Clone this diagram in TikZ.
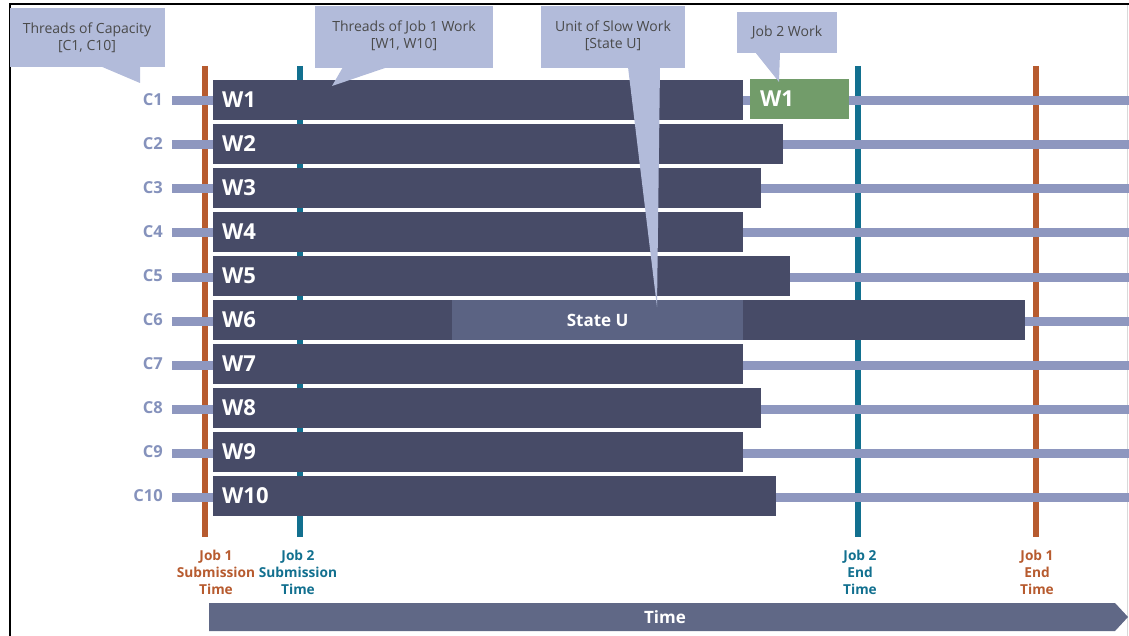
\documentclass[tikz,border=0pt]{standalone}
\usepackage{fontspec}
\setmainfont{Open Sans}
\definecolor{barc}{HTML}{474B67}
\definecolor{slowc}{HTML}{5B6383}
\definecolor{threadc}{HTML}{8E97BF}
\definecolor{calloutc}{HTML}{B2BBDA}
\definecolor{calltext}{HTML}{4A4A4A}
\definecolor{job1c}{HTML}{B75B2F}
\definecolor{job2c}{HTML}{12708F}
\definecolor{greenc}{HTML}{729C6A}
\definecolor{timec}{HTML}{606886}
\definecolor{capc}{HTML}{8592BC}
\tikzset{
  bar/.style={fill=barc, draw=none, anchor=west, minimum height=40pt, inner sep=0pt},
  wlabel/.style={anchor=west, text=white, font=\fontsize{22}{24}\selectfont\bfseries, inner sep=0pt},
  clabel/.style={anchor=east, text=capc, font=\fontsize{16.5}{18}\selectfont\bfseries, inner sep=0pt},
  thread/.style={draw=threadc, line width=9pt},
  jobline/.style={line width=5.5pt},
  callout/.style={fill=calloutc, draw=none},
  calltxt/.style={text=calltext, align=center, font=\fontsize{14}{17}\selectfont, inner sep=0pt},
  marktxt/.style={align=center, font=\fontsize{13.7}{17}\selectfont\bfseries, inner sep=0pt},
}
\begin{document}
\begin{tikzpicture}[x=1pt,y=-1pt]
\useasboundingbox (0,0) rectangle (1129,636);
% frame
\draw[line width=2pt] (10,636) -- (10,4.5) -- (1129,4.5);
\draw[black!15, line width=1pt] (1127.5,5) -- (1127.5,636);

% job time markers
\draw[jobline, job1c] (205,66) -- (205,537);
\draw[jobline, job2c] (300,66) -- (300,537);
\draw[jobline, job2c] (858,66) -- (858,537);
\draw[jobline, job1c] (1036,66) -- (1036,537);

% capacity threads, job 1 work bars
\foreach \i/\e in {1/743, 2/783, 3/761, 4/743, 5/790, 6/1025, 7/743, 8/761, 9/743, 10/776} {
  \pgfmathsetmacro{\yc}{100+44*(\i-1)}
  \node[clabel] (c\i) at (163,\yc) {C\i};
  \draw[thread] (172,\yc+1) -- (1129,\yc+1);
  \pgfmathsetmacro{\barw}{\e-213}
  \node[bar, minimum width=\barw pt] (w\i) at (213,\yc) {};
  \node[wlabel] (wl\i) at (222,\yc) {W\i};
}

% slow unit inside W6
\node[fill=slowc, anchor=west, minimum width=291pt, minimum height=40pt, inner sep=0pt,
      text=white, font=\fontsize{17}{20}\selectfont\bfseries] (stateu) at (452,320) {State U};

% job 2 work
\node[fill=greenc, anchor=west, minimum width=99pt, minimum height=40pt, inner sep=0pt] (j2) at (750,99) {};
\node[wlabel] (j2l) at (760,99) {W1};

% callouts
\fill[callout] (10,8) rectangle (165,67);
\fill[callout] (100,66) -- (140,83) -- (140,66) -- cycle;
\node[calltxt] (cap) at (87,38) {Threads of Capacity\\{}[C1, C10]};

\fill[callout] (315,6) rectangle (493,68);
\fill[callout] (388,67) -- (332,86) -- (343,67) -- cycle;
\node[calltxt] (job1w) at (404,36) {Threads of Job 1 Work\\{}[W1, W10]};

\fill[callout] (541,6) rectangle (685,68);
\fill[callout] (628,67) -- (657,307) -- (660,67) -- cycle;
\node[calltxt] (slow) at (613,36) {Unit of Slow Work\\{}[State U]};

\fill[callout] (737,12) rectangle (837,53);
\fill[callout] (755,52) -- (779,82) -- (780,52) -- cycle;
\node[calltxt] (job2w) at (787,33) {Job 2 Work};

% time labels
\node[marktxt, text=job1c] (t1s) at (216,572) {Job 1\\Submission\\Time};
\node[marktxt, text=job2c] (t2s) at (298,572) {Job 2\\Submission\\Time};
\node[marktxt, text=job2c] (t2e) at (860,572) {Job 2\\End\\Time};
\node[marktxt, text=job1c] (t1e) at (1037,572) {Job 1\\End\\Time};

% time axis
\fill[timec] (209,603) -- (1115,603) -- (1128,617) -- (1115,631) -- (209,631) -- cycle;
\node[text=white, font=\fontsize{17}{20}\selectfont\bfseries] (time) at (665,617) {Time};
\end{tikzpicture}
\end{document}
